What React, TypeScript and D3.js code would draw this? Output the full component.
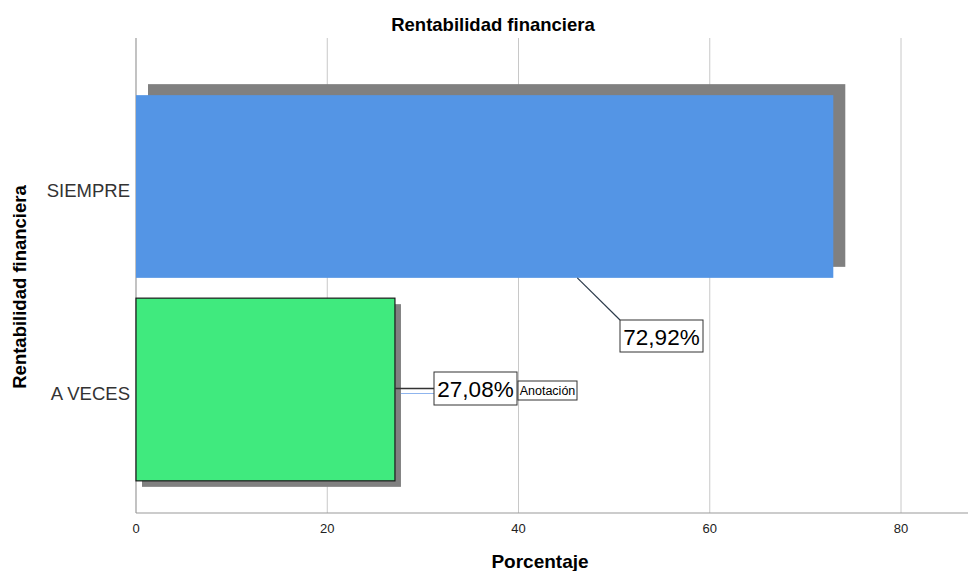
import React from "react";
import * as d3 from "d3";

const categories = ["SIEMPRE", "A VECES"];
const percents = [72.92, 27.08];
const valueLabels = ["72,92%", "27,08%"];
const xTicks = [0, 20, 40, 60, 80];
const barColors = ["#5495E5", "#40EA7E"];

const W = 969;
const H = 571;
const FONT = "Liberation Sans, Arial, sans-serif";

export default function App() {
  const x = d3.scaleLinear().domain([0, 80]).range([136, 901]);
  const y = d3
    .scaleBand<string>()
    .domain(categories)
    .range([85, 491])
    .paddingInner(0.1)
    .paddingOuter(0.05);
  const plotTop = 38;
  const plotBottom = 513;
  const plotRight = 968;
  const bw = y.bandwidth();

  // Drop shadow offsets per bar
  const shadows = [
    { dx: 12, dy: -11 },
    { dx: 6, dy: 6 },
  ];

  const b0 = y(categories[0])!;
  const b1 = y(categories[1])!;
  const end0 = x(percents[0]);
  const end1 = x(percents[1]);
  const mid1 = b1 + bw / 2;

  return (
    <div style={{ position: "absolute", left: 0, top: 0 }}>
      <svg width={W} height={H} style={{ display: "block", background: "#fff" }}>
        <text
          x={493}
          y={31}
          textAnchor="middle"
          fontFamily={FONT}
          fontWeight="bold"
          fontSize={18.5}
          fill="#000"
        >
          Rentabilidad financiera
        </text>

        {/* vertical gridlines */}
        {xTicks.slice(1).map((t) => (
          <line
            key={t}
            x1={x(t)}
            x2={x(t)}
            y1={plotTop}
            y2={plotBottom}
            stroke="#c8c8c8"
            strokeWidth={1}
          />
        ))}

        {/* axes */}
        <line x1={136} x2={136} y1={plotTop} y2={plotBottom} stroke="#9a9a9a" strokeWidth={1.2} />
        <line x1={136} x2={plotRight} y1={plotBottom} y2={plotBottom} stroke="#9a9a9a" strokeWidth={1.2} />

        {/* bars with shadows */}
        {categories.map((c, i) => {
          const top = y(c)!;
          const sx = shadows[i];
          return (
            <g key={c}>
              <rect
                x={x(0) + sx.dx}
                y={top + sx.dy}
                width={x(percents[i]) - x(0)}
                height={bw}
                fill="#808080"
              />
              <rect
                x={x(0)}
                y={top}
                width={x(percents[i]) - x(0)}
                height={bw}
                fill={barColors[i]}
                stroke={i === 1 ? "#1a1a1a" : "none"}
                strokeWidth={i === 1 ? 1.2 : 0}
              />
            </g>
          );
        })}

        {/* category labels */}
        {categories.map((c) => (
          <text
            key={c}
            x={130}
            y={y(c)! + bw / 2 + 10}
            textAnchor="end"
            fontFamily={FONT}
            fontSize={18.5}
            fill="#333"
          >
            {c}
          </text>
        ))}

        {/* x tick labels */}
        {xTicks.map((t) => (
          <text
            key={t}
            x={x(t)}
            y={533}
            textAnchor="middle"
            fontFamily={FONT}
            fontSize={13}
            fill="#222"
          >
            {t}
          </text>
        ))}

        <text
          x={540}
          y={568}
          textAnchor="middle"
          fontFamily={FONT}
          fontWeight="bold"
          fontSize={19}
          fill="#000"
        >
          Porcentaje
        </text>
        <text
          transform="translate(26,287) rotate(-90)"
          textAnchor="middle"
          fontFamily={FONT}
          fontWeight="bold"
          fontSize={18.5}
          fill="#000"
        >
          Rentabilidad financiera
        </text>

        {/* annotation: SIEMPRE */}
        <line x1={end0 - 256} y1={b0 + bw} x2={620} y2={320} stroke="#2b3a4a" strokeWidth={1.2} />
        <rect x={620} y={320} width={83} height={32} fill="#fff" stroke="#333" strokeWidth={1} />
        <text x={661.5} y={344.5} textAnchor="middle" fontFamily={FONT} fontSize={22.5} fill="#000">
          {valueLabels[0]}
        </text>

        {/* annotation: A VECES */}
        <line x1={end1} y1={mid1 - 1} x2={434} y2={mid1 - 1} stroke="#333" strokeWidth={1.5} />
        <line x1={end1 + 6} y1={mid1 + 4} x2={434} y2={mid1 + 4} stroke="#8fb5ee" strokeWidth={1.2} />
        <rect x={434} y={372} width={83} height={33} fill="#fff" stroke="#333" strokeWidth={1} />
        <text x={475.5} y={396.5} textAnchor="middle" fontFamily={FONT} fontSize={22.5} fill="#000">
          {valueLabels[1]}
        </text>
        <rect x={518} y={381} width={59} height={19} fill="#fff" stroke="#333" strokeWidth={1} />
        <text x={547.5} y={395} textAnchor="middle" fontFamily={FONT} fontSize={12.5} fill="#000">
          Anotación
        </text>
      </svg>
    </div>
  );
}
